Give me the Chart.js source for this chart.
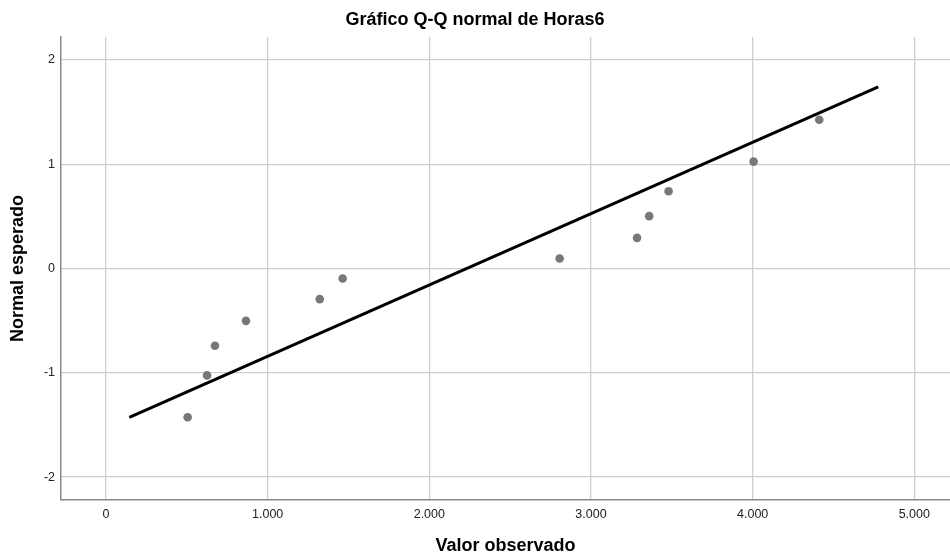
<!DOCTYPE html>
<html>
<head>
<meta charset="utf-8">
<script src="https://cdn.jsdelivr.net/npm/chart.js@4"></script>
<style>
html,body{margin:0;padding:0;background:#fff;}
canvas{display:block;}
</style>
</head>
<body>
<canvas id="c" width="950" height="557"></canvas>
<script>
// Observed values (Horas6) and expected normal quantiles
const observed = [505, 625, 674, 866, 1322, 1464, 2806, 3285, 3360, 3480, 4006, 4412];
const expectedNormal = [-1.426, -1.025, -0.741, -0.502, -0.294, -0.096, 0.096, 0.294, 0.502, 0.741, 1.025, 1.426];
// Reference line end points
const lineX = [144, 4777];
const lineY = [-1.428, 1.742];
// Tick labels
const xTicks = [0, 1000, 2000, 3000, 4000, 5000];
const yTicks = [-2, -1, 0, 1, 2];

const FONT = "'Liberation Sans', Arial, sans-serif";
const fmt = v => {
  const s = Math.round(v).toString();
  return s.replace(/\B(?=(\d{3})+(?!\d))/g, '.');
};

new Chart(document.getElementById('c'), {
  type: 'scatter',
  data: {
    datasets: [
      {
        type: 'line',
        data: lineX.map((x, i) => ({x: x, y: lineY[i]})),
        borderColor: '#000',
        borderWidth: 3,
        pointRadius: 0,
        fill: false,
        order: 2
      },
      {
        data: observed.map((x, i) => ({x: x, y: expectedNormal[i]})),
        backgroundColor: '#787878',
        borderColor: '#787878',
        pointRadius: 4.3,
        pointBorderWidth: 0,
        order: 1
      }
    ]
  },
  options: {
    responsive: false,
    animation: false,
    layout: {autoPadding: false, padding: 0},
    plugins: {
      legend: {display: false},
      tooltip: {enabled: false},
      title: {
        display: true,
        text: 'Gráfico Q-Q normal de Horas6',
        color: '#000',
        font: {family: FONT, size: 18, weight: 'bold', lineHeight: 1.2},
        padding: {top: 9.7, bottom: 5.7}
      }
    },
    scales: {
      x: {
        type: 'linear',
        min: -278.4,
        max: 5220.8,
        afterBuildTicks: s => { s.ticks = xTicks.map(v => ({value: v})); },
        afterFit: s => { s.height = 57; },
        grid: {color: '#cfcfcf', lineWidth: 1.3, drawTicks: false},
        border: {color: '#8a8a8a', width: 1.5},
        ticks: {
          color: '#222',
          font: {family: FONT, size: 12.5},
          padding: 7,
          maxRotation: 0,
          callback: v => fmt(v)
        },
        title: {
          display: true,
          text: 'Valor observado',
          color: '#000',
          font: {family: FONT, size: 18, weight: 'bold', lineHeight: 1.2},
          padding: {top: 0, bottom: 0}
        }
      },
      y: {
        type: 'linear',
        min: -2.22,
        max: 2.22,
        afterBuildTicks: s => { s.ticks = yTicks.map(v => ({value: v})); },
        afterFit: s => { s.width = 61; },
        grid: {color: '#cfcfcf', lineWidth: 1.3, drawTicks: false},
        border: {color: '#8a8a8a', width: 1.5},
        ticks: {
          color: '#222',
          font: {family: FONT, size: 12.5},
          padding: 6,
          callback: v => String(v)
        },
        title: {
          display: true,
          text: 'Normal esperado',
          color: '#000',
          font: {family: FONT, size: 18, weight: 'bold', lineHeight: 1.2},
          padding: {top: 7, bottom: 0}
        }
      }
    }
  }
});
</script>
</body>
</html>
